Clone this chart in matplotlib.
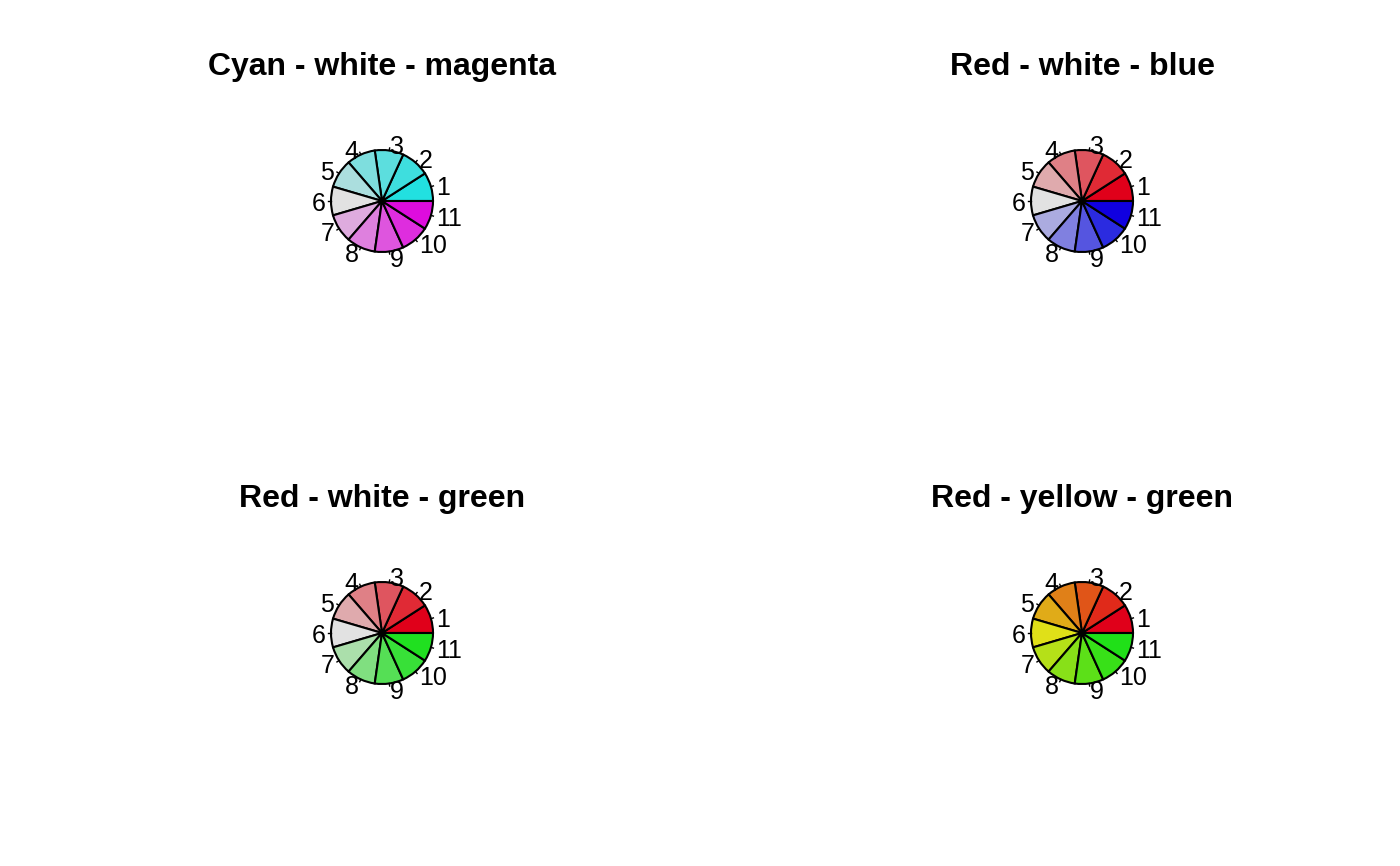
import matplotlib
matplotlib.use('Agg')
import matplotlib.pyplot as plt
import numpy as np

plt.rcParams['font.family'] = ['Liberation Sans', 'DejaVu Sans']

# data: 11 equal slices per pie
slices = [1] * 11
labels = [str(i) for i in range(1, 12)]
titles = ['Cyan - white - magenta', 'Red - white - blue',
          'Red - white - green', 'Red - yellow - green']

# palettes
cyan_magenta = ['#22E0E0', '#3EDEDE', '#5CDEDE', '#7EDEDE', '#ABDEDE', '#E2E2E2',
                '#DEABDE', '#DE80DE', '#DE55DE', '#DE2DDE', '#DE0CDE']
red_blue = ['#E0001A', '#E02A35', '#DF555F', '#DF8086', '#DFAAAD', '#E2E2E2',
            '#ABABE0', '#8080E0', '#5555E0', '#2B2BE0', '#1000E0']
red_green = ['#E0001A', '#E02A35', '#DF555F', '#DF8086', '#DFAAAD', '#E2E2E2',
             '#ABDFAB', '#80DF80', '#55DF55', '#38E038', '#20E020']
red_yellow_green = ['#E0001A', '#E02A1A', '#E05518', '#E08018', '#E0AB18', '#E0E018',
                    '#B5E018', '#88E018', '#5CE018', '#38E018', '#20E018']
palettes = [cyan_magenta, red_blue, red_green, red_yellow_green]

W, H = 1400, 866
fig = plt.figure(figsize=(W / 100, H / 100), dpi=100)

centers = [(382, 201), (1082, 201), (382, 633), (1082, 633)]
title_base = [75, 75, 507, 507]
R = 51      # pie radius in px
half = 110  # half size of axes in px

for k in range(4):
    cx, cy = centers[k]
    ax = fig.add_axes([(cx - half) / W, 1 - (cy + half) / H, 2 * half / W, 2 * half / H])
    wedges, texts = ax.pie(slices, labels=labels, colors=palettes[k], startangle=0,
                           counterclock=True, radius=1, labeldistance=1.11,
                           wedgeprops=dict(edgecolor='black', linewidth=1.5),
                           textprops=dict(fontsize=18))
    for t in texts:
        t.set_va('center_baseline')
    # small tick marks toward labels, like base R pie
    n = len(slices)
    mids = (np.arange(n) + 0.5) / n * 2 * np.pi
    for a in mids:
        ax.plot([np.cos(a), 1.05 * np.cos(a)], [np.sin(a), 1.05 * np.sin(a)],
                color='black', lw=1)
    lim = half / R
    ax.set_xlim(-lim, lim)
    ax.set_ylim(-lim, lim)
    ax.set_aspect('equal')
    ax.axis('off')
    fig.text(cx / W, 1 - title_base[k] / H, titles[k], ha='center', va='baseline',
             fontsize=23, fontweight='bold')

plt.savefig('out.png', dpi=100)
